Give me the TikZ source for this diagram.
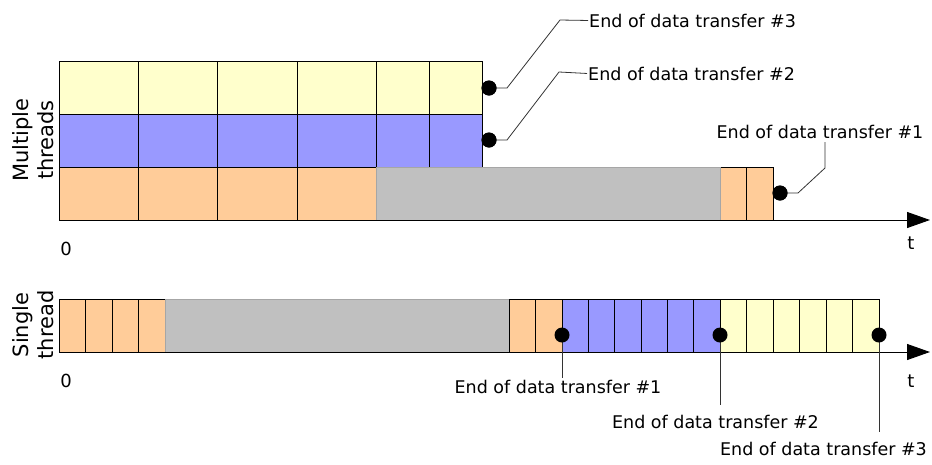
\documentclass[tikz,border=0pt]{standalone}
\usepackage{fontspec}
\setmainfont{DejaVu Sans}
\usetikzlibrary{arrows.meta, positioning}

\definecolor{lemon}{RGB}{255,255,204}
\definecolor{lavender}{RGB}{153,153,255}
\definecolor{peach}{RGB}{255,204,153}
\definecolor{idlegray}{RGB}{192,192,192}

\begin{document}
\begin{tikzpicture}[x=1pt, y=-1pt]
	\tikzset{>={Triangle[length=23pt, width=16pt]},
		cell/.style={draw=black, line width=0.9pt},
		idle/.style={fill=idlegray, draw=black!35, line width=0.6pt},
		dot/.style={circle, fill=black, inner sep=0pt, minimum size=15pt},
		lead/.style={draw=black!80, line width=0.8pt},
		lbl/.style={font=\fontsize{17.5}{20}\selectfont, inner sep=1pt},
		tick/.style={font=\fontsize{18}{20}\selectfont, inner sep=0pt},
		side/.style={font=\fontsize{21}{25}\selectfont, rotate=90, align=center},
		axis/.style={->, line width=1pt}}
	\useasboundingbox (0,0) rectangle (932,464);

	% multiple threads
	\foreach \a/\b in {59/138, 138/217, 217/297, 297/376, 376/429, 429/482} {
		\draw[cell, fill=lemon] (\a,61) rectangle (\b,114);
		\draw[cell, fill=lavender] (\a,114) rectangle (\b,167);
	}
	\foreach \a/\b in {59/138, 138/217, 217/297, 297/376, 720/746.5, 746.5/773}
		\draw[cell, fill=peach] (\a,167) rectangle (\b,220);
	\draw[idle] (376,167) rectangle (720,220);

	\coordinate (o1) at (59,220);
	\coordinate (e1) at (930,220);
	\draw[axis] (o1) -- (e1);
	\node[tick, anchor=base] (z1) at (66,255) {0};
	\node[tick, anchor=base] (t1) at (911,249) {t};
	\node[side] (m) at (33,140) {Multiple\\threads};

	\node[dot] (d3) at (489,88) {};
	\node[dot] (d2) at (489,140) {};
	\node[dot] (d1) at (780,193) {};
	\node[lbl, anchor=base west] (l3) at (588,27) {End of data transfer \#3};
	\node[lbl, anchor=base west] (l2) at (587,80) {End of data transfer \#2};
	\node[lbl, anchor=base] (l1) at (820,138) {End of data transfer \#1};
	\coordinate (k1) at (825,142);
	\draw[lead] (d3.center) -- ++(18,0) -- ++(53,-68) -- (l3.west);
	\draw[lead] (d2.center) -- ++(18,0) -- ++(52,-68) -- (l2.west);
	\draw[lead] (d1.center) -- ++(18,0) -- ++(27,-25) -- (k1);
	\node[dot] at (d3) {};
	\node[dot] at (d2) {};
	\node[dot] at (d1) {};

	% single thread
	\foreach \i in {0,...,3}
		\draw[cell, fill=peach] (59+26.5*\i,299) rectangle (85.5+26.5*\i,352);
	\draw[idle] (165,299) rectangle (509,352);
	\foreach \i in {0,1}
		\draw[cell, fill=peach] (509+26.5*\i,299) rectangle (535.5+26.5*\i,352);
	\foreach \i in {0,...,5} {
		\draw[cell, fill=lavender] (562+26.33*\i,299) rectangle (588.33+26.33*\i,352);
		\draw[cell, fill=lemon] (720+26.5*\i,299) rectangle (746.5+26.5*\i,352);
	}

	\coordinate (o2) at (59,352);
	\coordinate (e2) at (930,352);
	\draw[axis] (o2) -- (e2);
	\node[tick, anchor=base] (z2) at (66,387) {0};
	\node[tick, anchor=base] (t2) at (911,387) {t};
	\node[side] (s) at (33,325) {Single\\thread};

	\coordinate (p1) at (562,335);
	\coordinate (p2) at (720,335);
	\coordinate (p3) at (879,335);
	\coordinate (q1) at (562,378);
	\coordinate (q2) at (720,405);
	\coordinate (q3) at (879,432);
	\draw[lead] (p1) -- (q1);
	\draw[lead] (p2) -- (q2);
	\draw[lead] (p3) -- (q3);
	\node[dot] (f1) at (p1) {};
	\node[dot] (f2) at (p2) {};
	\node[dot] (f3) at (p3) {};
	\node[lbl, anchor=base] (b1) at (558,393) {End of data transfer \#1};
	\node[lbl, anchor=base] (b2) at (715.5,428) {End of data transfer \#2};
	\node[lbl, anchor=base] (b3) at (823.5,455) {End of data transfer \#3};
\end{tikzpicture}
\end{document}
